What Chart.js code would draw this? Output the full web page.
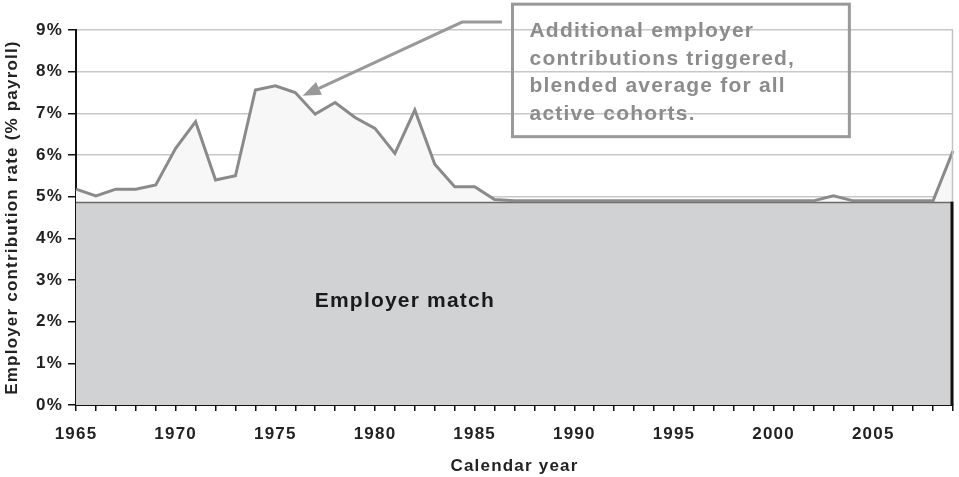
<!DOCTYPE html>
<html>
<head>
<meta charset="utf-8">
<script src="https://cdn.jsdelivr.net/npm/chart.js@4"></script>
<style>
  html, body { margin: 0; padding: 0; background: #fff; }
  #wrap { width: 959px; height: 477px; }
</style>
</head>
<body>
<div id="wrap"><canvas id="chart" width="959" height="477"></canvas></div>
<script>
// calendar years on the x axis
const years = [
  "1965","1966","1967","1968","1969","1970","1971","1972","1973","1974",
  "1975","1976","1977","1978","1979","1980","1981","1982","1983","1984",
  "1985","1986","1987","1988","1989","1990","1991","1992","1993","1994",
  "1995","1996","1997","1998","1999","2000","2001","2002","2003","2004",
  "2005","2006","2007","2008","2009"
];

// total employer contribution (% payroll), match + triggered extra
const totalRate = [
  5.18, 5.02, 5.18, 5.18, 5.28, 6.16, 6.80, 5.40, 5.50, 7.56,
  7.66, 7.50, 6.98, 7.26, 6.90, 6.64, 6.04, 7.08, 5.78, 5.24,
  5.24, 4.93, 4.90, 4.90, 4.90, 4.90, 4.90, 4.90, 4.90, 4.90,
  4.90, 4.90, 4.90, 4.90, 4.90, 4.90, 4.90, 4.90, 5.02, 4.90,
  4.90, 4.90, 4.90, 4.90, 6.10
];

// employer match (% payroll)
const matchRate = [
  4.88, 4.88, 4.88, 4.88, 4.88, 4.88, 4.88, 4.88, 4.88, 4.88,
  4.88, 4.88, 4.88, 4.88, 4.88, 4.88, 4.88, 4.88, 4.88, 4.88,
  4.88, 4.88, 4.88, 4.88, 4.88, 4.88, 4.88, 4.88, 4.88, 4.88,
  4.88, 4.88, 4.88, 4.88, 4.88, 4.88, 4.88, 4.88, 4.88, 4.88,
  4.88, 4.88, 4.88, 4.88, 4.88
];

const yTicks = [0, 1, 2, 3, 4, 5, 6, 7, 8, 9];

const noteLines = [
  "Additional employer",
  "contributions triggered,",
  "blended average for all",
  "active cohorts."
];
const matchLabel = "Employer match";

const FONT = "'Liberation Sans', Arial, Helvetica, sans-serif";
const SPACING = "1.2px";

// the source text is set a little wide, so every label gets some tracking
const tracking = {
  id: "tracking",
  beforeLayout(chart) { chart.ctx.letterSpacing = SPACING; },
  beforeDraw(chart) { chart.ctx.letterSpacing = SPACING; }
};

// annotation: box, callout arrow and the area label, placed in data units
const extras = {
  id: "extras",
  afterDraw(chart) {
    const { ctx, scales: { x, y }, chartArea } = chart;
    const xp = (yr) => x.getPixelForValue(yr - 1965);
    ctx.save();
    ctx.letterSpacing = SPACING;

    // right frame of plot, then dark edge of the match area
    ctx.strokeStyle = "#c4c4c4";
    ctx.lineWidth = 1.5;
    ctx.beginPath();
    ctx.moveTo(chartArea.right - 0.5, chartArea.top);
    ctx.lineTo(chartArea.right - 0.5, chartArea.bottom);
    ctx.stroke();
    ctx.strokeStyle = "#111";
    ctx.lineWidth = 3;
    ctx.beginPath();
    ctx.moveTo(chartArea.right - 1, y.getPixelForValue(matchRate[matchRate.length - 1]));
    ctx.lineTo(chartArea.right - 1, chartArea.bottom);
    ctx.stroke();

    // area label
    ctx.fillStyle = "#1a1a1a";
    ctx.font = "bold 21px " + FONT;
    ctx.textAlign = "center";
    ctx.textBaseline = "middle";
    ctx.fillText(matchLabel, xp(1981.5), y.getPixelForValue(2.5));

    // callout box
    const bx0 = xp(1986.9), bx1 = xp(2003.8);
    const by0 = y.getPixelForValue(9.62), by1 = y.getPixelForValue(6.44);
    ctx.strokeStyle = "#999";
    ctx.lineWidth = 3;
    ctx.strokeRect(bx0, by0, bx1 - bx0, by1 - by0);

    ctx.fillStyle = "#8c8c8c";
    ctx.font = "bold 21px " + FONT;
    ctx.textAlign = "left";
    ctx.textBaseline = "alphabetic";
    noteLines.forEach((t, i) => {
      ctx.fillText(t, bx0 + 17, by0 + 33 + i * 27.6);
    });

    // arrow
    const ax0 = xp(1986.37), ay0 = y.getPixelForValue(9.19);
    const ax1 = xp(1984.37);
    const tx = xp(1976.37), ty = y.getPixelForValue(7.42);
    ctx.strokeStyle = "#999";
    ctx.lineWidth = 3;
    ctx.beginPath();
    ctx.moveTo(ax0, ay0);
    ctx.lineTo(ax1, ay0);
    const ang = Math.atan2(ty - ay0, tx - ax1);
    const hl = 18, hw = 7;
    const bxh = tx - hl * Math.cos(ang), byh = ty - hl * Math.sin(ang);
    ctx.lineTo(bxh, byh);
    ctx.stroke();
    ctx.fillStyle = "#999";
    ctx.beginPath();
    ctx.moveTo(tx, ty);
    ctx.lineTo(bxh + hw * Math.sin(ang), byh - hw * Math.cos(ang));
    ctx.lineTo(bxh - hw * Math.sin(ang), byh + hw * Math.cos(ang));
    ctx.closePath();
    ctx.fill();

    ctx.restore();
  }
};

new Chart(document.getElementById("chart").getContext("2d"), {
  type: "line",
  data: {
    labels: years,
    datasets: [
      {
        label: "Total",
        data: totalRate,
        borderColor: "#8a8a8a",
        borderWidth: 3,
        backgroundColor: "#f7f7f7",
        fill: 1,
        pointRadius: 0,
        tension: 0
      },
      {
        label: "Employer match",
        data: matchRate,
        borderColor: "#6a6a6a",
        borderWidth: 3,
        backgroundColor: "#d1d2d4",
        fill: "origin",
        pointRadius: 0,
        tension: 0
      }
    ]
  },
  options: {
    responsive: false,
    animation: false,
    layout: { padding: { top: 30, right: 6, left: 0, bottom: 0 } },
    plugins: {
      legend: { display: false },
      tooltip: { enabled: false }
    },
    scales: {
      x: {
        type: "category",
        offset: false,
        grid: { drawOnChartArea: false, drawTicks: true, tickLength: 6, color: "#111", lineWidth: 1.5 },
        border: { color: "#111", width: 2 },
        ticks: {
          autoSkip: false,
          maxRotation: 0,
          padding: 13,
          color: "#222",
          font: { family: FONT, size: 17, weight: "bold" },
          callback: function (v, i) {
            const lab = years[i];
            return Number(lab) % 5 === 0 ? lab : "";
          }
        },
        title: {
          display: true,
          text: "Calendar year",
          color: "#222",
          font: { family: FONT, size: 17, weight: "bold" },
          padding: { top: 0, bottom: 0 }
        },
        afterFit(scale) {
          scale.height = 72;
          scale.paddingLeft = 0;
          scale.paddingRight = 0;
        }
      },
      y: {
        min: 0,
        max: 9,
        afterBuildTicks(scale) { scale.ticks = yTicks.map(v => ({ value: v })); },
        grid: { color: "#c8c8c8", lineWidth: 1.5, tickColor: "#111", tickLength: 8 },
        border: { color: "#111", width: 2 },
        ticks: {
          padding: 5,
          color: "#222",
          font: { family: FONT, size: 17, weight: "bold" },
          callback: (v) => v + "%"
        },
        title: {
          display: true,
          text: "Employer contribution rate (% payroll)",
          color: "#222",
          font: { family: FONT, size: 17, weight: "bold" },
          padding: { top: 2, bottom: 0 }
        },
        afterFit(scale) { scale.width = 76; }
      }
    }
  },
  plugins: [tracking, extras]
});
</script>
</body>
</html>
